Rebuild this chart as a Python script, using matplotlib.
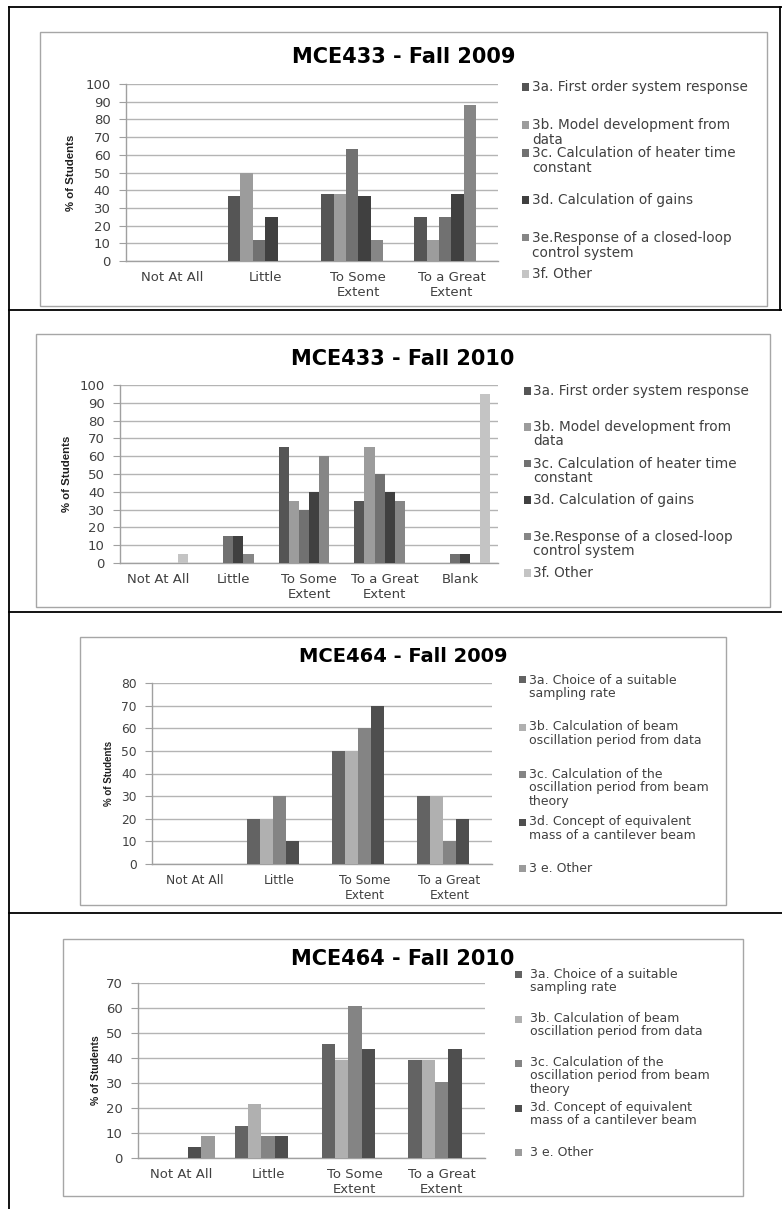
import matplotlib
matplotlib.use('Agg')
import matplotlib.pyplot as plt
from matplotlib.patches import Rectangle
from matplotlib.lines import Line2D
import numpy as np

W, H = 782, 1209
fig = plt.figure(figsize=(W / 100, H / 100), dpi=100)

# ---------------- data ----------------
cats4 = ['Not At All', 'Little', 'To Some\nExtent', 'To a Great\nExtent']
cats5 = ['Not At All', 'Little', 'To Some\nExtent', 'To a Great\nExtent', 'Blank']

labels_433 = ['3a. First order system response',
              '3b. Model development from\ndata',
              '3c. Calculation of heater time\nconstant',
              '3d. Calculation of gains',
              '3e.Response of a closed-loop\ncontrol system',
              '3f. Other']
labels_464 = ['3a. Choice of a suitable\nsampling rate',
              '3b. Calculation of beam\noscillation period from data',
              '3c. Calculation of the\noscillation period from beam\ntheory',
              '3d. Concept of equivalent\nmass of a cantilever beam',
              '3 e. Other']

# MCE433 - Fall 2009
m433_09_3a = [0, 37, 38, 25]
m433_09_3b = [0, 50, 38, 12]
m433_09_3c = [0, 12, 63, 25]
m433_09_3d = [0, 25, 37, 38]
m433_09_3e = [0, 0, 12, 88]
m433_09_3f = [0, 0, 0, 0]

# MCE433 - Fall 2010
m433_10_3a = [0, 0, 65, 35, 0]
m433_10_3b = [0, 0, 35, 65, 0]
m433_10_3c = [0, 15, 30, 50, 5]
m433_10_3d = [0, 15, 40, 40, 5]
m433_10_3e = [0, 5, 60, 35, 0]
m433_10_3f = [5, 0, 0, 0, 95]

# MCE464 - Fall 2009
m464_09_3a = [0, 20, 50, 30]
m464_09_3b = [0, 20, 50, 30]
m464_09_3c = [0, 30, 60, 10]
m464_09_3d = [0, 10, 70, 20]
m464_09_3e = [0, 0, 0, 0]

# MCE464 - Fall 2010
m464_10_3a = [0, 13.0, 45.5, 39.1]
m464_10_3b = [0, 21.7, 39.1, 39.1]
m464_10_3c = [0, 8.7, 60.9, 30.4]
m464_10_3d = [4.3, 8.7, 43.5, 43.5]
m464_10_3e = [8.7, 0, 0, 0]

colors_433 = ['#555555', '#9c9c9c', '#717171', '#404040', '#868686', '#c4c4c4']
colors_464 = ['#636363', '#b0b0b0', '#848484', '#4e4e4e', '#9b9b9b']

TXT = '#404040'
TICKFONT = 'DejaVu Sans'
YLABFONT = ['Liberation Sans', 'DejaVu Sans']


def fx(x):
    return x / W


def fy(y):
    return 1 - y / H


def frame_line(x0, y0, x1, y1, color='black', lw=1.3):
    fig.add_artist(Line2D([fx(x0), fx(x1)], [fy(y0), fy(y1)], color=color,
                          lw=lw, transform=fig.transFigure))


def panel(box, title, title_y, title_size, axrect, cats, series, labels, colors,
          ymax, ystep, tick_size, ylab_x, ylab_size, leg_sq_x, leg_txt_x,
          leg_ys, leg_gap, leg_size):
    bl, bt, br, bb = box
    fig.add_artist(Rectangle((fx(bl), fy(bb)), fx(br) - fx(bl), fy(bt) - fy(bb),
                             transform=fig.transFigure, facecolor='none',
                             edgecolor='#a6a6a6', lw=1.0))
    fig.text(fx((bl + br) / 2), fy(title_y), title, ha='center', va='center',
             fontsize=title_size, fontweight='bold', family='DejaVu Sans',
             color='black')
    l, t, r, b = axrect
    ax = fig.add_axes([fx(l), fy(b), fx(r) - fx(l), fy(t) - fy(b)])
    n = len(series)
    x = np.arange(len(cats))
    w = 1.0 / (n + 1.5)
    for i, (vals, col) in enumerate(zip(series, colors)):
        ax.bar(x + (i - (n - 1) / 2) * w, vals, width=w, color=col,
               edgecolor='none', zorder=3)
    ax.set_xlim(-0.5, len(cats) - 0.5)
    ax.set_ylim(0, ymax)
    ax.set_yticks(np.arange(0, ymax + 1, ystep))
    ax.set_xticks(x)
    ax.set_xticklabels(cats, fontsize=tick_size, color=TXT, family=TICKFONT,
                       linespacing=1.2)
    ax.tick_params(axis='x', length=0, pad=7)
    ax.tick_params(axis='y', length=5, color='#a0a0a0', labelsize=tick_size,
                   labelcolor=TXT, pad=6)
    for lab in ax.get_yticklabels():
        lab.set_family(TICKFONT)
    ax.grid(axis='y', color='#b4b4b4', lw=1.0, zorder=0)
    ax.set_axisbelow(True)
    for s in ['top', 'right']:
        ax.spines[s].set_visible(False)
    for s in ['left', 'bottom']:
        ax.spines[s].set_color('#a0a0a0')
        ax.spines[s].set_linewidth(1.0)
    ax.patch.set_alpha(0)
    fig.text(fx(ylab_x), fy((t + b) / 2), '% of Students', rotation=90,
             ha='center', va='center', fontsize=ylab_size, fontweight='bold',
             family=YLABFONT, color='#202020')
    # legend
    for lab, col, ly in zip(labels, colors, leg_ys):
        sq = 7
        fig.add_artist(Rectangle((fx(leg_sq_x), fy(ly + sq / 2)), sq / W, sq / H,
                                 transform=fig.transFigure, facecolor=col,
                                 edgecolor='none'))
        for k, line in enumerate(lab.split('\n')):
            fig.text(fx(leg_txt_x), fy(ly + k * leg_gap), line, ha='left',
                     va='center', fontsize=leg_size, family=TICKFONT, color=TXT)
    return ax


# outer frame
frame_line(9, 7, 9, 1209)
frame_line(9, 7, 782, 7)
frame_line(780, 7, 780, 310)
frame_line(9, 310, 782, 310)
frame_line(9, 612, 782, 612)
frame_line(9, 913, 782, 913)

panel((40, 32, 767, 306), 'MCE433 - Fall 2009', 57, 15, (125.7, 84, 498, 261),
      cats4, [m433_09_3a, m433_09_3b, m433_09_3c, m433_09_3d, m433_09_3e, m433_09_3f],
      labels_433, colors_433, 100, 10, 9.5, 71, 8.2,
      522, 532, [87, 125, 153, 200, 238, 274], 15, 9.8)

panel((36, 334, 770, 607), 'MCE433 - Fall 2010', 359, 15, (120, 385, 498, 563),
      cats5, [m433_10_3a, m433_10_3b, m433_10_3c, m433_10_3d, m433_10_3e, m433_10_3f],
      labels_433, colors_433, 100, 10, 9.5, 67, 8.2,
      524, 533, [391, 427, 464, 500, 537, 573], 14, 9.8)

panel((80, 637, 726, 905), 'MCE464 - Fall 2009', 656, 14, (152, 683, 492, 864),
      cats4, [m464_09_3a, m464_09_3b, m464_09_3c, m464_09_3d, m464_09_3e],
      labels_464, colors_464, 80, 10, 8.8, 109, 7.0,
      519, 529, [680, 727, 774, 822, 868], 13.5, 9)

panel((63, 939, 743, 1196), 'MCE464 - Fall 2010', 959, 15, (138, 983, 485, 1158),
      cats4, [m464_10_3a, m464_10_3b, m464_10_3c, m464_10_3d, m464_10_3e],
      labels_464, colors_464, 70, 10, 9.5, 96, 7.6,
      515, 530, [974, 1019, 1063, 1108, 1152], 13, 9)

fig.savefig('out.png', dpi=100, facecolor='white')
